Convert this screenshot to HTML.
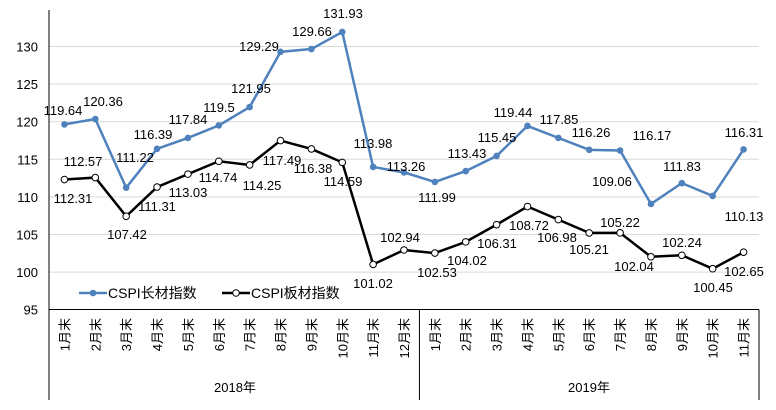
<!DOCTYPE html>
<html><head><meta charset="utf-8"><style>
body{margin:0;background:#fff}
svg{display:block;font-family:"Liberation Sans","Noto Sans CJK SC",sans-serif}
</style></head><body>
<svg id="s" width="776" height="410" viewBox="0 0 776 410" xmlns="http://www.w3.org/2000/svg"></svg>
<script>
const s=document.getElementById('s');
const L=49,R=759,W=(R-L)/23;
const X=i=>L+W*(i+0.5);
const Y=v=>309.7-(v-95)*7.52;
let h='';
for(let v=100;v<=130;v+=5){h+=`<line x1="${L}" x2="${R}" y1="${Y(v)}" y2="${Y(v)}" stroke="#d9d9d9" stroke-width="1"/>`;}
for(let v=95;v<=130;v+=5){h+=`<text x="38" y="${Y(v)+5}" font-size="13" text-anchor="end" fill="#000">${v}</text>`;}
h+=`<line x1="${L}" x2="${L}" y1="10" y2="400" stroke="#000"/>`;
h+=`<line x1="${L}" x2="${R}" y1="309.5" y2="309.5" stroke="#000"/>`;
h+=`<line x1="${R}" x2="${R}" y1="309.5" y2="400" stroke="#000"/>`;
h+=`<line x1="${L+W*12}" x2="${L+W*12}" y1="309.5" y2="400" stroke="#000"/>`;
for(let i=0;i<23;i++){const m=i<12?i+1:i-11;const x=X(i)+5;
h+=`<text transform="translate(${x},318) rotate(-90)" font-size="13" text-anchor="end">${m}月末</text>`;}
h+=`<text x="235" y="392" font-size="13" text-anchor="middle">2018年</text>`;
h+=`<text x="589" y="392" font-size="13" text-anchor="middle">2019年</text>`;
const b=[119.64,120.36,111.22,116.39,117.84,119.5,121.95,129.29,129.66,131.93,113.98,113.26,111.99,113.43,115.45,119.44,117.85,116.26,116.17,109.06,111.83,110.13,116.31];
const k=[112.31,112.57,107.42,111.31,113.03,114.74,114.25,117.49,116.38,114.59,101.02,102.94,102.53,104.02,106.31,108.72,106.98,105.21,105.22,102.04,102.24,100.45,102.65];
h+=`<polyline fill="none" stroke="#4f81bd" stroke-width="2.5" points="${b.map((v,i)=>X(i)+','+Y(v)).join(' ')}"/>`;
b.forEach((v,i)=>h+=`<circle cx="${X(i)}" cy="${Y(v)}" r="3.3" fill="#4f81bd"/>`);
h+=`<polyline fill="none" stroke="#000" stroke-width="2.5" points="${k.map((v,i)=>X(i)+','+Y(v)).join(' ')}"/>`;
k.forEach((v,i)=>h+=`<circle cx="${X(i)}" cy="${Y(v)}" r="3.3" fill="#fff" stroke="#000" stroke-width="1"/>`);
const lab=[["119.64",63,110],["120.36",103,101],["111.22",135,157],["116.39",153,134],["117.84",188,119],["119.5",219,107],["121.95",251,88],["129.29",259,46],["129.66",312,31],["131.93",343,13],["113.98",373,143],["113.26",406,166],["111.99",437,197],["113.43",467,153],["115.45",497,137],["119.44",513,112],["117.85",559,119],["116.26",591,132],["116.17",652,135],["109.06",612,181],["111.83",682,166],["110.13",744,216],["116.31",744,132],
["112.57",83,161],["112.31",73,198],["107.42",127,234],["111.31",157,206],["113.03",188,192],["114.74",218,177],["114.25",262,185],["117.49",282,160],["116.38",313,168],["114.59",343,181],["101.02",373,283],["102.94",400,237],["102.53",437,272],["104.02",467,260],["106.31",497,243],["108.72",529,225],["106.98",557,237],["105.21",589,249],["105.22",620,222],["102.04",634,266],["102.24",682,242],["100.45",713,287],["102.65",744,271]];
lab.forEach(([t,x,y])=>h+=`<text x="${x}" y="${y+5}" font-size="13" text-anchor="middle">${t}</text>`);
h+=`<line x1="79" x2="107" y1="293" y2="293" stroke="#4f81bd" stroke-width="2.5"/><circle cx="93" cy="293" r="3.3" fill="#4f81bd"/>`;
h+=`<text x="108" y="298" font-size="14">CSPI长材指数</text>`;
h+=`<line x1="222" x2="250" y1="293" y2="293" stroke="#000" stroke-width="2.5"/><circle cx="236" cy="293" r="3.3" fill="#fff" stroke="#000"/>`;
h+=`<text x="251" y="298" font-size="14">CSPI板材指数</text>`;
s.innerHTML=h;
</script>
</body></html>
